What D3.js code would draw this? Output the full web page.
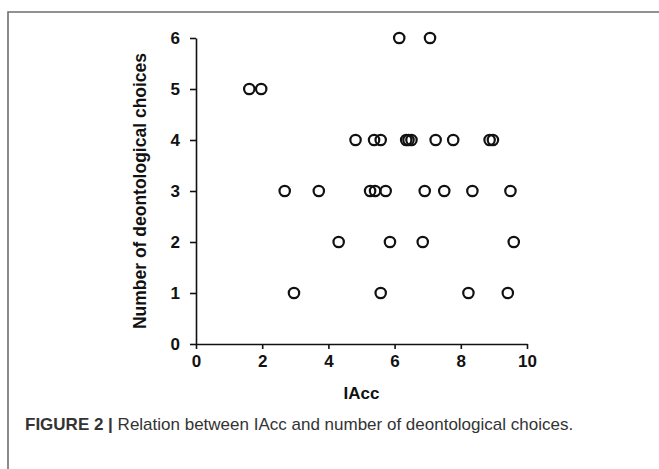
<!DOCTYPE html>
<html>
<head>
<meta charset="utf-8">
<script src="https://cdn.jsdelivr.net/npm/d3@7"></script>
<style>
  html, body { margin: 0; padding: 0; background: #fff; }
  svg { display: block; }
</style>
</head>
<body>
<svg id="chart" width="659" height="469"></svg>
<script>
// ---- data ----
const iaccValues = [6.14, 7.07,
  1.61, 1.97,
  4.82, 5.38, 5.58, 6.35, 6.42, 6.51, 7.24, 7.77, 8.87, 8.97,
  2.68, 3.71, 5.26, 5.41, 5.73, 6.91, 7.50, 8.35, 9.50,
  4.31, 5.86, 6.85, 9.60,
  2.96, 5.58, 8.23, 9.42];
const deontologicalChoices = [6, 6,
  5, 5,
  4, 4, 4, 4, 4, 4, 4, 4, 4, 4,
  3, 3, 3, 3, 3, 3, 3, 3, 3,
  2, 2, 2, 2,
  1, 1, 1, 1];
const xTicks = [0, 2, 4, 6, 8, 10];
const yTicks = [0, 1, 2, 3, 4, 5, 6];
const xLabel = "IAcc";
const yLabel = "Number of deontological choices";
const captionBold = "FIGURE 2 |";
const captionText = " Relation between IAcc and number of deontological choices.";

const svg = d3.select("#chart");
const font = "'Liberation Sans', Arial, Helvetica, sans-serif";

// frame
svg.append("path")
  .attr("d", "M8,469 L8,12 L659,12")
  .attr("fill", "none").attr("stroke", "#6e6e6e").attr("stroke-width", 1.6);

const x = d3.scaleLinear().domain([0, 10]).range([196, 527]);
const y = d3.scaleLinear().domain([0, 6]).range([344, 38]);

const xAxis = svg.append("g").attr("transform", `translate(0,${y(0)})`)
  .call(d3.axisBottom(x).tickValues(xTicks).tickFormat(d3.format("d"))
    .tickSize(5).tickSizeOuter(0).tickPadding(6));
const yAxis = svg.append("g").attr("transform", `translate(${x(0)},0)`)
  .call(d3.axisLeft(y).tickValues(yTicks).tickFormat(d3.format("d"))
    .tickSize(6).tickSizeOuter(0).tickPadding(10));

[xAxis, yAxis].forEach(g => {
  g.select(".domain").attr("stroke", "#111").attr("stroke-width", 1.6);
  g.selectAll(".tick line").attr("stroke", "#111").attr("stroke-width", 1.6);
  g.selectAll(".tick text").attr("fill", "#111")
    .style("font-family", font).style("font-size", "17px").style("font-weight", "bold");
});

svg.append("g").selectAll("circle")
  .data(iaccValues.map((v, i) => [v, deontologicalChoices[i]]))
  .join("circle")
  .attr("cx", d => x(d[0])).attr("cy", d => y(d[1]))
  .attr("r", 5.2)
  .attr("fill", "none").attr("stroke", "#111").attr("stroke-width", 2.2);

svg.append("text")
  .attr("x", (x(0) + x(10)) / 2).attr("y", 399)
  .attr("text-anchor", "middle")
  .style("font-family", font).style("font-size", "17px").style("font-weight", "bold")
  .attr("fill", "#111").text(xLabel);

svg.append("text")
  .attr("transform", `translate(146,${(y(0) + y(6)) / 2}) rotate(-90)`)
  .attr("text-anchor", "middle")
  .style("font-family", font).style("font-size", "17.5px").style("font-weight", "bold")
  .attr("fill", "#111").text(yLabel);

const cap = svg.append("text").attr("x", 25).attr("y", 430)
  .style("font-family", font).style("font-size", "17px").attr("fill", "#333");
cap.append("tspan").style("font-weight", "bold").text(captionBold);
cap.append("tspan").text(captionText);
</script>
</body>
</html>
